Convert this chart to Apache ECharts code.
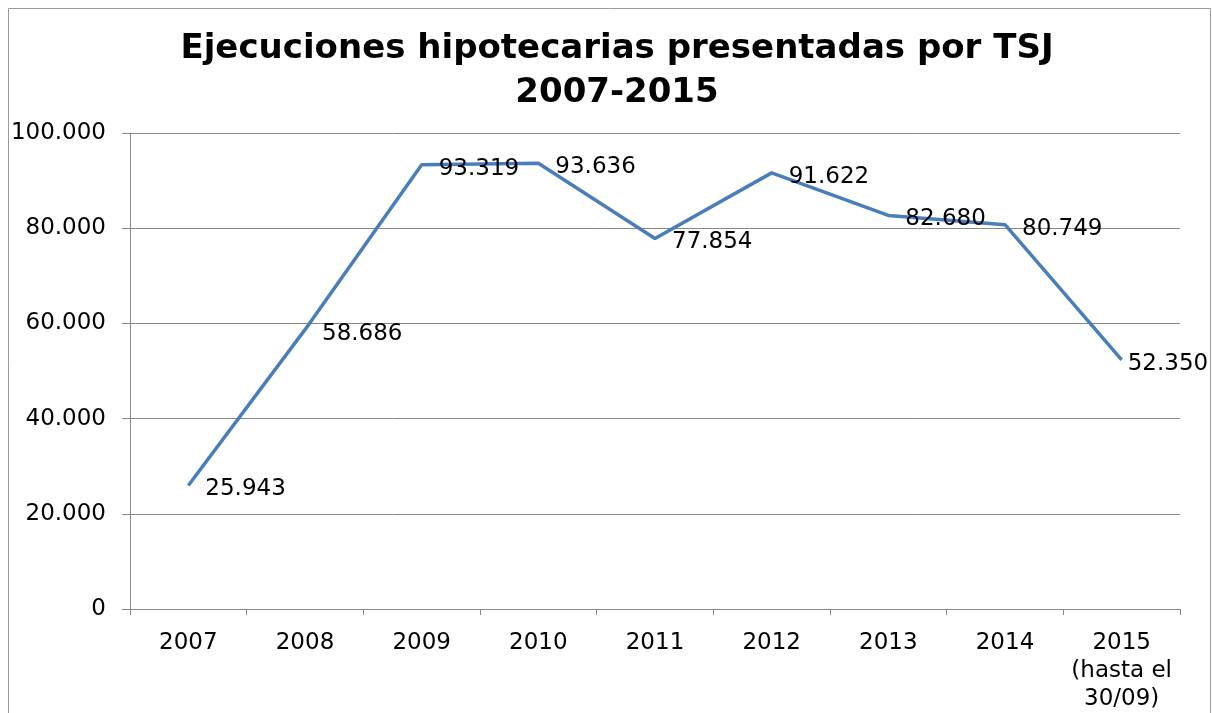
<!DOCTYPE html>
<html>
<head>
<meta charset="utf-8">
<script src="https://cdn.jsdelivr.net/npm/echarts@6/dist/echarts.min.js"></script>
<style>
html,body{margin:0;padding:0;background:#fff;}
#chart{width:1212px;height:713px;}
</style>
</head>
<body>
<div id="chart"></div>
<script>
const categories = ['2007', '2008', '2009', '2010', '2011', '2012', '2013', '2014', '2015\n(hasta el\n30/09)'];
const values = [25943, 58686, 93319, 93636, 77854, 91622, 82680, 80749, 52350];
const yTicks = [0, 20000, 40000, 60000, 80000, 100000];
const titleText = 'Ejecuciones hipotecarias presentadas por TSJ\n2007-2015';

function fmt(v) {
  return String(v).replace(/\B(?=(\d{3})+(?!\d))/g, '.');
}

const chart = echarts.init(document.getElementById('chart'), null, {renderer: 'canvas'});
const FONT = '"DejaVu Sans", Verdana, sans-serif';

const seriesData = values.map((v, i) => {
  const item = {value: v};
  if (i === values.length - 1) {
    item.label = {distance: 6};
  }
  return item;
});

chart.setOption({
  animation: false,
  backgroundColor: '#ffffff',
  graphic: [{
    type: 'rect',
    shape: {x: 8.5, y: 8.5, width: 1202, height: 720},
    style: {fill: 'none', stroke: '#9a9a9a', lineWidth: 1},
    silent: true
  }],
  title: {
    text: titleText,
    left: 612,
    textAlign: 'center',
    top: 22,
    textStyle: {
      fontFamily: FONT,
      fontWeight: 'bold',
      fontSize: 34,
      lineHeight: 44,
      color: '#000'
    }
  },
  grid: {
    left: 130,
    right: 32,
    top: 133,
    bottom: 103,
    containLabel: false
  },
  xAxis: {
    type: 'category',
    data: categories,
    boundaryGap: true,
    axisLine: {lineStyle: {color: '#878787', width: 1}},
    axisTick: {show: true, length: 6, alignWithLabel: false, lineStyle: {color: '#878787'}},
    axisLabel: {
      interval: 0,
      margin: 20,
      fontFamily: FONT,
      fontSize: 23,
      lineHeight: 28,
      color: '#000',
      align: 'center',
      verticalAlign: 'top'
    },
    splitLine: {show: false}
  },
  yAxis: {
    type: 'value',
    min: yTicks[0],
    max: yTicks[yTicks.length - 1],
    interval: yTicks[1] - yTicks[0],
    axisLine: {show: true, lineStyle: {color: '#878787', width: 1}},
    axisTick: {show: true, length: 8, lineStyle: {color: '#878787'}},
    axisLabel: {
      margin: 24,
      fontFamily: FONT,
      fontSize: 23,
      color: '#000',
      formatter: v => fmt(v)
    },
    splitLine: {show: true, lineStyle: {color: '#878787', width: 1}}
  },
  series: [{
    type: 'line',
    data: seriesData,
    showSymbol: true,
    symbol: 'circle',
    symbolSize: 0,
    lineStyle: {color: '#4A7EBB', width: 3.5},
    itemStyle: {color: '#4A7EBB'},
    label: {
      show: true,
      position: 'right',
      distance: 17,
      fontFamily: FONT,
      fontSize: 23,
      color: '#000',
      formatter: p => fmt(p.value)
    },
    labelLayout: {hideOverlap: false, dy: 4},
    z: 3
  }]
});
</script>
</body>
</html>
